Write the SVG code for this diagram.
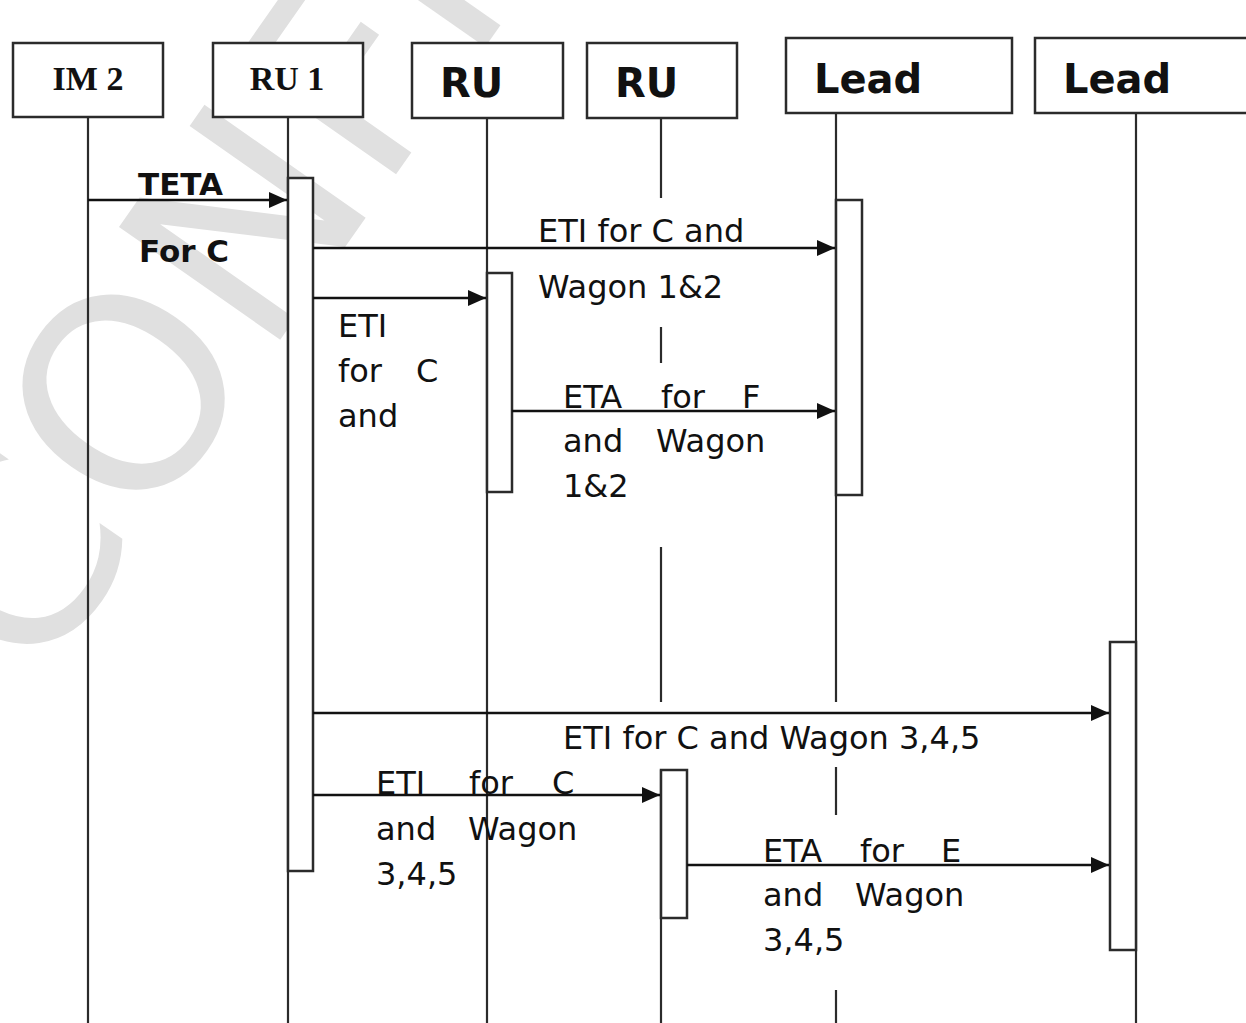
<svg xmlns="http://www.w3.org/2000/svg" width="1246" height="1023" viewBox="0 0 1246 1023">
<defs>
<marker id="arr" viewBox="0 0 18 16" refX="18" refY="8" markerWidth="18" markerHeight="16" markerUnits="userSpaceOnUse" orient="auto">
<path d="M0,0 L18,8 L0,16 Z" fill="#111"/>
</marker>
<style>
.box{fill:#fff;stroke:#2b2b2b;stroke-width:2.5}
.act{fill:#fff;stroke:#2b2b2b;stroke-width:2.5}
.life{stroke:#2b2b2b;stroke-width:2.2;fill:none}
.msg{stroke:#111;stroke-width:2.5;fill:none;marker-end:url(#arr)}
.serifh{font-family:"Liberation Serif","Times New Roman",serif;font-weight:bold;font-size:34px;fill:#111}
.sansh{font-family:"DejaVu Sans",Verdana,sans-serif;font-weight:bold;font-size:40px;fill:#111}
.lbl{font-family:"DejaVu Sans",Verdana,sans-serif;font-size:32px;fill:#111}
.blbl{font-family:"DejaVu Sans",Verdana,sans-serif;font-weight:bold;font-size:31px;fill:#111}
.wm{font-family:"DejaVu Sans",Verdana,sans-serif;font-size:270px;fill:#e0e0e0}
</style>
</defs>
<rect width="1246" height="1023" fill="#fff"/>
<text class="wm" transform="translate(35,690) rotate(-55)">CONFIDENTIAL</text>

<g id="lifelines">
<line class="life" x1="88" y1="117" x2="88" y2="1023"/>
<line class="life" x1="288" y1="117" x2="288" y2="1023"/>
<line class="life" x1="487" y1="117" x2="487" y2="1023"/>
<line class="life" x1="661" y1="117" x2="661" y2="198"/>
<line class="life" x1="661" y1="327" x2="661" y2="363"/>
<line class="life" x1="661" y1="547" x2="661" y2="702"/>
<line class="life" x1="661" y1="770" x2="661" y2="1023"/>
<line class="life" x1="836" y1="113" x2="836" y2="702"/>
<line class="life" x1="836" y1="767" x2="836" y2="815"/>
<line class="life" x1="836" y1="990" x2="836" y2="1023"/>
<line class="life" x1="1136" y1="113" x2="1136" y2="1023"/>
</g>

<g id="node-im2"><rect class="box" x="13" y="43" width="150" height="74"/><text class="serifh" x="88" y="90" text-anchor="middle">IM 2</text></g>
<g id="node-ru1"><rect class="box" x="213" y="43" width="150" height="74"/><text class="serifh" x="287" y="90" text-anchor="middle">RU 1</text></g>
<g id="node-ru-a"><rect class="box" x="412" y="43" width="151" height="75"/><text class="sansh" x="440" y="97">RU</text></g>
<g id="node-ru-b"><rect class="box" x="587" y="43" width="150" height="75"/><text class="sansh" x="615" y="97">RU</text></g>
<g id="node-lead-a"><rect class="box" x="786" y="38" width="226" height="75"/><text class="sansh" x="814" y="93">Lead</text></g>
<g id="node-lead-b"><rect class="box" x="1035" y="38" width="220" height="75"/><text class="sansh" x="1063" y="93">Lead</text></g>

<g id="activations">
<rect class="act" x="288" y="178" width="25" height="693"/>
<rect class="act" x="487" y="273" width="25" height="219"/>
<rect class="act" x="836" y="200" width="26" height="295"/>
<rect class="act" x="661" y="770" width="26" height="148"/>
<rect class="act" x="1110" y="642" width="26" height="308"/>
</g>

<g id="connectors">
<line class="msg" x1="88" y1="200" x2="287" y2="200"/>
<line class="msg" x1="313" y1="248" x2="835" y2="248"/>
<line class="msg" x1="313" y1="298" x2="486" y2="298"/>
<line class="msg" x1="512" y1="411" x2="835" y2="411"/>
<line class="msg" x1="313" y1="713" x2="1109" y2="713"/>
<line class="msg" x1="313" y1="795" x2="660" y2="795"/>
<line class="msg" x1="687" y1="865" x2="1109" y2="865"/>
</g>

<g id="labels">
<text class="blbl" x="138" y="195">TETA</text>
<text class="blbl" x="139" y="262">For C</text>
<text class="lbl" x="538" y="242">ETI for C and</text>
<text class="lbl" x="538" y="298">Wagon 1&amp;2</text>
<text class="lbl" x="338" y="337">ETI</text>
<text class="lbl" y="382"><tspan x="338">for</tspan><tspan x="416">C</tspan></text>
<text class="lbl" x="338" y="427">and</text>
<text class="lbl" y="408"><tspan x="563">ETA</tspan><tspan x="661">for</tspan><tspan x="742">F</tspan></text>
<text class="lbl" y="452"><tspan x="563">and</tspan><tspan x="656">Wagon</tspan></text>
<text class="lbl" x="563" y="497">1&amp;2</text>
<text class="lbl" x="563" y="749">ETI for C and Wagon 3,4,5</text>
<text class="lbl" y="794"><tspan x="376">ETI</tspan><tspan x="469">for</tspan><tspan x="552">C</tspan></text>
<text class="lbl" y="840"><tspan x="376">and</tspan><tspan x="468">Wagon</tspan></text>
<text class="lbl" x="376" y="885">3,4,5</text>
<text class="lbl" y="862"><tspan x="763">ETA</tspan><tspan x="860">for</tspan><tspan x="941">E</tspan></text>
<text class="lbl" y="906"><tspan x="763">and</tspan><tspan x="855">Wagon</tspan></text>
<text class="lbl" x="763" y="951">3,4,5</text>
</g>
</svg>
